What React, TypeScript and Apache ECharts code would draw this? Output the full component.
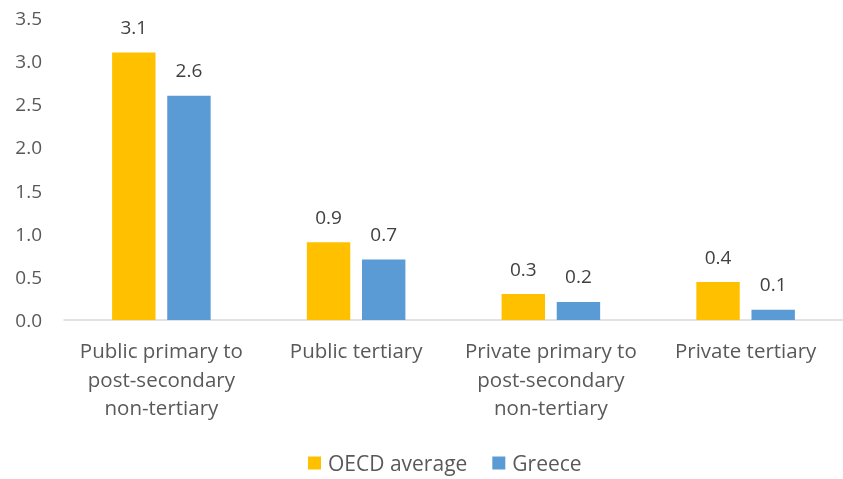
import React, { useEffect, useRef } from "react";
import * as echarts from "echarts";

const categories = [
  "Public primary to\npost-secondary\nnon-tertiary",
  "Public tertiary",
  "Private primary to\npost-secondary\nnon-tertiary",
  "Private tertiary",
];
const oecdValues = [3.1, 0.9, 0.3, 0.44];
const greeceValues = [2.6, 0.7, 0.21, 0.12];
const seriesNames = ["OECD average", "Greece"];

const FONT = "'Open Sans', 'Noto Sans', sans-serif";
const TEXT = "#595959";

export default function App() {
  const ref = useRef<HTMLDivElement>(null);
  useEffect(() => {
    if (!ref.current) return;
    const chart = echarts.init(ref.current, null, { renderer: "svg" });
    const label = {
      show: true,
      position: "top",
      distance: 16,
      color: "#404040",
      fontSize: 19,
      fontFamily: FONT,
      formatter: (p: any) => Number(p.value).toFixed(1),
    };
    chart.setOption({
      animation: false,
      textStyle: { fontFamily: FONT },
      grid: { left: 64, right: -12, top: 18, bottom: 159, containLabel: false },
      legend: {
        top: 450,
        left: 308,
        itemWidth: 13,
        itemHeight: 13,
        itemGap: 25,
        icon: "rect",
        padding: 0,
        textStyle: { color: TEXT, fontSize: 21, fontFamily: FONT, lineHeight: 26, padding: [0, 0, 0, 2] },
        data: seriesNames,
      },
      xAxis: {
        type: "category",
        data: categories,
        axisLine: { show: true, lineStyle: { color: "#D9D9D9", width: 1.5 } },
        axisTick: { show: false },
        axisLabel: {
          color: TEXT,
          fontSize: 20.5,
          fontFamily: FONT,
          lineHeight: 28.5,
          margin: 16,
          interval: 0,
        },
      },
      yAxis: {
        type: "value",
        min: 0,
        max: 3.5,
        interval: 0.5,
        splitLine: { show: false },
        axisLine: { show: false },
        axisTick: { show: false },
        axisLabel: {
          color: TEXT,
          fontSize: 19,
          fontFamily: FONT,
          margin: 22,
          formatter: (v: number) => v.toFixed(1),
        },
      },
      series: [
        {
          name: seriesNames[0],
          type: "bar",
          data: oecdValues,
          itemStyle: { color: "#FFC000" },
          barGap: "27%",
          barCategoryGap: "49.4%",
          label,
        },
        {
          name: seriesNames[1],
          type: "bar",
          data: greeceValues,
          itemStyle: { color: "#5B9BD5" },
          barGap: "27%",
          barCategoryGap: "49.4%",
          label,
        },
      ],
    });
    return () => chart.dispose();
  }, []);
  return (
    <div style={{ position: "fixed", left: 0, top: 0, width: 843, height: 479, overflow: "hidden" }}>
      <div ref={ref} style={{ width: 843, height: 479 }} />
    </div>
  );
}
